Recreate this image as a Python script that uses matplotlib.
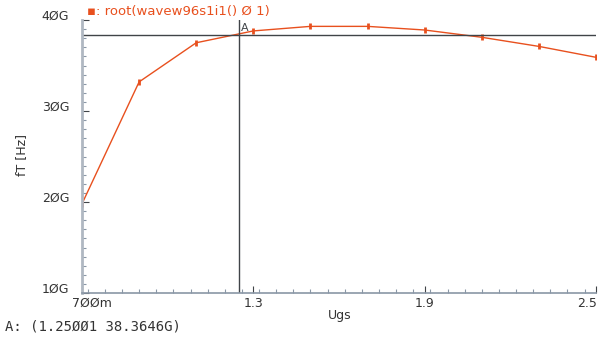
import numpy as np
import matplotlib.pyplot as plt
from matplotlib.ticker import FixedLocator, MultipleLocator

# Values (Ugs in V, fT in GHz)
ugs = [0.7, 0.9, 1.1, 1.3, 1.5, 1.7, 1.9, 2.1, 2.3, 2.5]
ft = [19.8, 33.2, 37.5, 38.8, 39.3, 39.3, 38.9, 38.1, 37.1, 35.9]
x_ticks = [0.7, 1.3, 1.9, 2.5]
x_labels = ['7ØØm', '1.3', '1.9', '2.5']
y_ticks = [10, 20, 30, 40]
y_labels = ['1ØG', '2ØG', '3ØG', '4ØG']
cursor_x, cursor_y = 1.25001, 38.3646

trace_col = '#e8501e'
axis_col = '#8a97a6'
cursor_col = '#404448'

fig = plt.figure(figsize=(6.06, 3.38), dpi=100)
ax = fig.add_axes([82 / 606, 1 - 293 / 338, 514 / 606, 273 / 338])

ax.plot(ugs, ft, color=trace_col, lw=1.0, marker='|', ms=5, mew=2)

ax.axvline(cursor_x, color=cursor_col, lw=1.0)
ax.axhline(cursor_y, color=cursor_col, lw=1.0)
ax.text(cursor_x + 0.005, cursor_y + 0.2, 'A', fontsize=8, color=cursor_col,
        ha='left', va='bottom')

ax.set_xlim(0.7, 2.5)
ax.set_ylim(10, 40)

for s in ['top', 'right']:
    ax.spines[s].set_visible(False)
ax.spines['left'].set_color('#b0b8c2')
ax.spines['left'].set_linewidth(2)
ax.spines['bottom'].set_color(axis_col)
ax.spines['bottom'].set_linewidth(1.2)

ax.xaxis.set_major_locator(FixedLocator(x_ticks))
ax.xaxis.set_minor_locator(MultipleLocator(0.06))
ax.yaxis.set_major_locator(FixedLocator(y_ticks))
ax.yaxis.set_minor_locator(MultipleLocator(1))
ax.tick_params(which='both', direction='in', color=cursor_col, width=0.8)
ax.tick_params(which='major', length=5)
ax.tick_params(which='minor', length=3, color=axis_col)
ax.set_xticklabels([])
ax.set_yticklabels([])

# tick labels, placed like the original tool does
for v, lab in zip(y_ticks, y_labels):
    ax.text(-0.025, (v - 10) / 30 + 0.012, lab, transform=ax.transAxes,
            ha='right', va='center', fontsize=9, color='#333333')
xa = [('left', -0.02), ('center', 0), ('center', 0), ('right', 0.002)]
for (ha, dx), v, lab in zip(xa, x_ticks, x_labels):
    ax.text((v - 0.7) / 1.8 + dx, -0.015, lab, transform=ax.transAxes,
            ha=ha, va='top', fontsize=9, color='#333333')

fig.text(22 / 606, 1 - 155 / 338, 'fT [Hz]', rotation=90, ha='center',
         va='center', fontsize=9, color='#333333')
fig.text(340 / 606, 1 - 316 / 338, 'Ugs', ha='center', va='center',
         fontsize=9, color='#333333')
fig.text(5 / 606, 1 - 327 / 338, 'A: (1.25ØØ1 38.3646G)', ha='left',
         va='center', fontsize=10, family='DejaVu Sans Mono', color='#333333')
fig.text(87 / 606, 1 - 12 / 338, '▪: root(wavew96s1i1() Ø 1)', ha='left',
         va='center', fontsize=9.5, color=trace_col)

fig.savefig('out.png', dpi=100)
